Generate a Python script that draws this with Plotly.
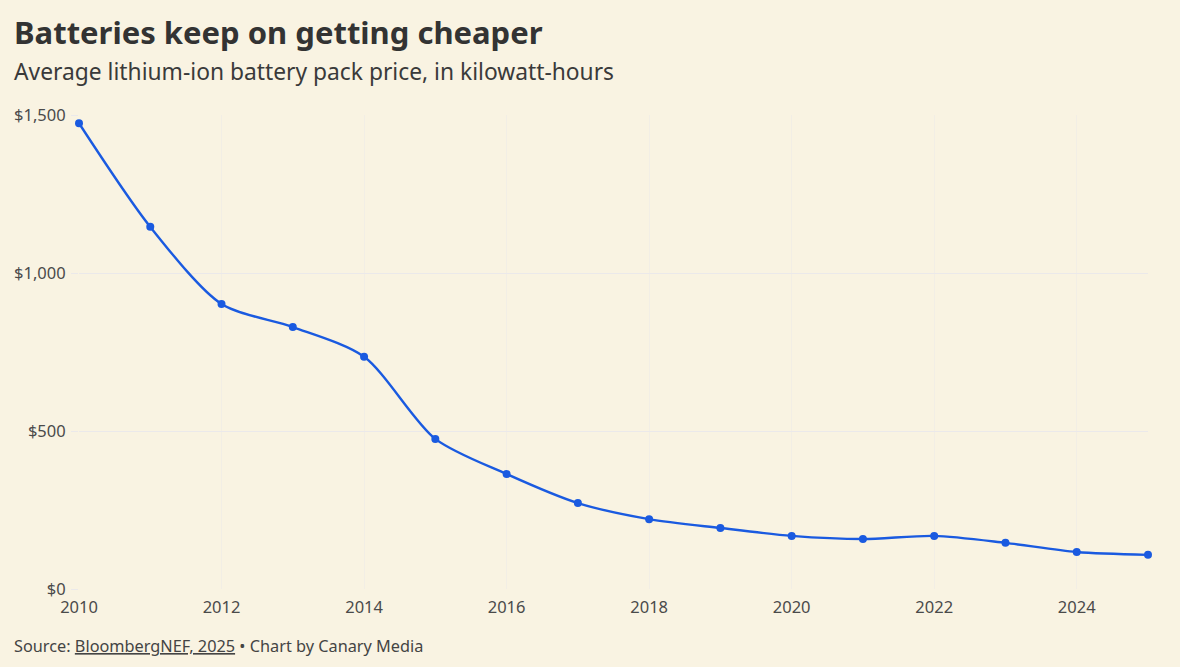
import plotly.graph_objects as go

years = list(range(2010, 2026))
prices = [1474, 1146, 902, 829, 735, 475, 364, 272, 221, 193, 168, 158, 168, 146, 117, 108]

y_ticks = [0, 500, 1000, 1500]
y_labels = ["$0", "$500", "$1,000", "$1,500"]
x_ticks = list(range(2010, 2025, 2))

bg = "#f9f3e2"
txt = "#333333"
grid = "#ebe9ea"
font = "Noto Sans"

fig = go.Figure(go.Scatter(
    x=years, y=prices,
    mode="lines+markers",
    line=dict(color="#1a5ae0", width=2.4, shape="spline", smoothing=0.8),
    marker=dict(color="#1a5ae0", size=8),
    hovertemplate="%{x}: $%{y:,}<extra></extra>",
    cliponaxis=False,
))

fig.update_layout(
    width=1180, height=667,
    paper_bgcolor=bg, plot_bgcolor=bg,
    margin=dict(l=79, r=32, t=115, b=78),
    font=dict(family=font, color=txt),
    showlegend=False,
    xaxis=dict(
        range=[2010, 2025], tickvals=x_ticks, ticktext=[str(v) for v in x_ticks],
        showgrid=True, gridcolor="rgba(230,230,236,0.35)", zeroline=False,
        showline=False, ticks="", tickfont=dict(size=16.5, color="#4a4a4a"),
        ticklabelstandoff=6,
    ),
    yaxis=dict(
        range=[0, 1500], tickvals=y_ticks, ticktext=y_labels,
        showgrid=True, gridcolor=grid, gridwidth=1, zeroline=False,
        ticks="outside", ticklen=7, tickcolor=grid, tickwidth=1,
        tickfont=dict(size=16.5, color="#4a4a4a"), ticklabelstandoff=2,
    ),
    annotations=[
        dict(text="<b>Batteries keep on getting cheaper</b>", x=12, y=32,
             xref="paper", yref="paper", showarrow=False),
        dict(text="Average lithium-ion battery pack price, in kilowatt-hours",
             x=12, y=71, xref="paper", yref="paper", showarrow=False),
        dict(text="Source: <u>BloombergNEF, 2025</u> • Chart by Canary Media",
             x=12, y=646, xref="paper", yref="paper", showarrow=False),
    ],
)

# position text annotations in pixel terms relative to the paper
W, H = 1180, 667
pl, pr, pt, pb = 79, 32, 115, 78
pw, ph = W - pl - pr, H - pt - pb
sizes = [31, 22.8, 16.3]
cols = [txt, "#3a3a3a", "#444"]
for a, s, c in zip(fig.layout.annotations, sizes, cols):
    px, py = a.x, a.y
    a.x = (px - pl) / pw
    a.y = 1 - (py - pt) / ph
    a.xanchor = "left"
    a.yanchor = "middle"
    a.font = dict(family=font, size=s, color=c)

fig.write_html("out.html", config={"displayModeBar": False},
               post_script="document.body.style.margin='0';")
